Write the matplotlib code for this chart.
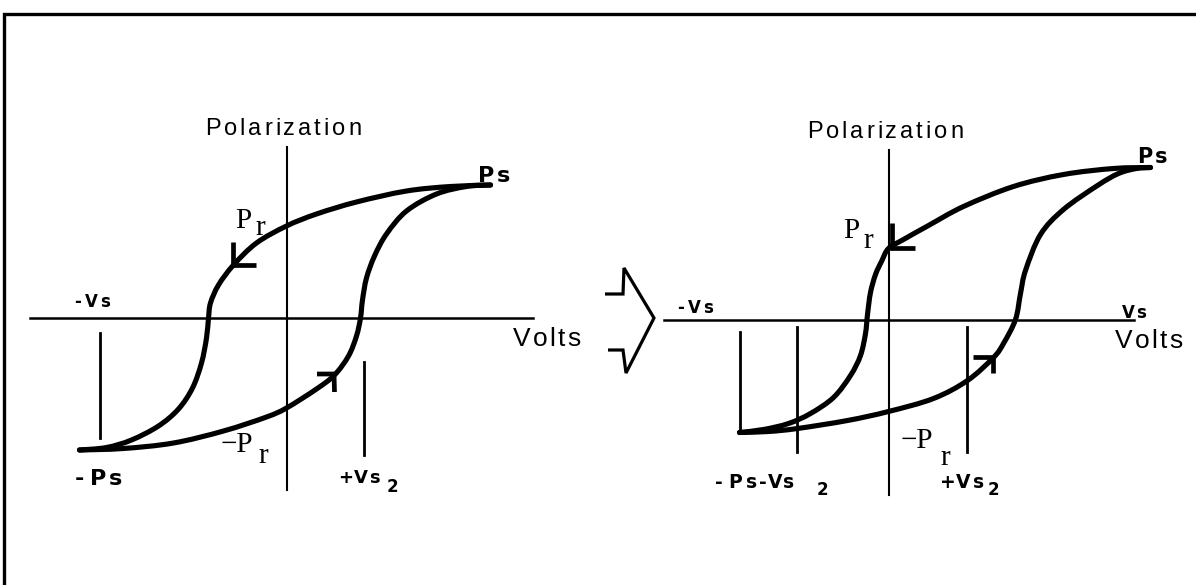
import numpy as np
import matplotlib
matplotlib.use("Agg")
import matplotlib.pyplot as plt
from matplotlib.textpath import TextToPath
from matplotlib.font_manager import FontProperties
from matplotlib import transforms
from matplotlib.path import Path
from matplotlib.patches import PathPatch

W, H, DPI = 1196, 585, 100

# ---------------- data (voltage, polarization), pixel-scaled units ----------------
# Left loop
left_desc_v = [204, 164, 120, 70, 30, 0, -30, -53, -68, -76, -78, -80, -85, -94, -108, -128, -155, -180, -207]
left_desc_p = [133, 131.5, 127, 116, 104, 92, 75, 53, 33, 15, 0, -20, -45, -70, -91, -108, -122, -129.5, -132]
left_asc_v = [-207, -163, -113, -63, -20, 0, 30, 48, 62, 70, 74, 76, 80, 88, 100, 120, 150, 180, 204]
left_asc_p = [-132, -130.5, -125, -113, -99, -90, -71, -57, -38, -18, 0, 18, 40, 62, 84, 107, 124, 131.5, 133]
left_ticks_v = [-186.5, 77.5]
left_ticks_p0 = [-15, -44]
left_ticks_p1 = [-120, -137]

# Right loop
right_desc_v = [262, 225, 175, 125, 75, 40, 15, 0, -7, -13, -18, -21, -23, -28, -38, -55, -78, -100, -125, -149]
right_desc_p = [152, 151, 145, 133, 113, 94, 80, 71, 58, 45, 27, 5, -14, -36, -56, -78, -94, -104, -110, -113]
right_asc_v = [-149, -120, -91, -41, 0, 45, 79, 105, 115, 127, 132, 137, 152, 175, 209, 230, 248, 262]
right_asc_p = [-113, -112, -109, -101, -92, -79, -61, -38, -24, 0, 26, 49, 85, 110, 134, 146, 151, 152]
right_ticks_v = [-148.5, -91.5, 78.5]
right_ticks_p0 = [-12.5, -7.5, -7.5]
right_ticks_p1 = [-112.5, -132.5, -132.5]

fig = plt.figure(figsize=(W / DPI, H / DPI), dpi=DPI)
fig.patch.set_facecolor("white")

bg = fig.add_axes([0, 0, 1, 1])
bg.set_xlim(0, W)
bg.set_ylim(H, 0)
bg.axis("off")

# page frame
bg.plot([4, 4, W], [H, 14, 14], color="black", lw=2.4, solid_joinstyle="miter")

# hollow arrow symbol between the two diagrams
bg.plot([605, 623, 624, 654, 626, 623, 608], [294, 294, 268, 318, 373, 350, 350],
        color="black", lw=2.3, solid_joinstyle="miter", solid_capstyle="butt")

t2p = TextToPath()


def tracked(ax, x, y, s, size, track, family, weight="normal", ha="left"):
    prop = FontProperties(family=family, weight=weight, size=size)
    n = len(s)
    if np.isscalar(track):
        track = [track] * max(n - 1, 1)
    widths = [0.0]
    for i in range(1, n + 1):
        w = t2p.get_text_width_height_descent(s[:i], prop, ismath=False)[0] * DPI / 72.0
        widths.append(w)
    total = widths[-1] + sum(track[: n - 1])
    x0 = 0.0 if ha == "left" else (-total / 2 if ha == "center" else -total)
    acc = 0.0
    for i, ch in enumerate(s):
        off = transforms.offset_copy(ax.transData, fig=ax.figure, x=x0 + widths[i] + acc, y=0, units="dots")
        ax.text(x, y, ch, transform=off, fontproperties=prop, va="baseline", ha="left", color="black")
        if i < n - 1:
            acc += track[i]


def loop_axes(ox, oy):
    ax = fig.add_axes([0, 0, 1, 1])
    ax.set_xlim(-ox, W - ox)
    ax.set_ylim(oy - H, oy)
    ax.axis("off")
    ax.patch.set_alpha(0)
    return ax


def smooth_curve(ax, xs, ys, lw=3.7):
    P = np.column_stack([xs, ys]).astype(float)
    n = len(P)
    verts = [P[0]]
    codes = [Path.MOVETO]
    for i in range(n - 1):
        p0 = P[i - 1] if i > 0 else P[i]
        p1, p2 = P[i], P[i + 1]
        p3 = P[i + 2] if i + 2 < n else P[i + 1]
        verts += [p1 + (p2 - p0) / 6.0, p2 - (p3 - p1) / 6.0, p2]
        codes += [Path.CURVE4] * 3
    ax.add_patch(PathPatch(Path(verts, codes), fill=False, lw=lw, edgecolor="black",
                           capstyle="round", joinstyle="round"))


def half_arrow(ax, tip, a1, a2):
    ax.plot([a1[0], tip[0], a2[0]], [a1[1], tip[1], a2[1]], color="black", lw=3.4,
            solid_capstyle="butt", solid_joinstyle="miter")


SANS = "Liberation Sans"
BOLD = "DejaVu Sans"
SERIF = "Liberation Serif"

# ---------------- left diagram ----------------
axL = loop_axes(286.5, 318)
axL.plot([-256.5, 246.5], [0, 0], color="black", lw=1.8)
axL.plot([0, 0], [171, -172], color="black", lw=1.5)
for v, p0, p1 in zip(left_ticks_v, left_ticks_p0, left_ticks_p1):
    axL.plot([v, v], [p0, p1], color="black", lw=2.0)
smooth_curve(axL, left_desc_v, left_desc_p)
smooth_curve(axL, left_asc_v, left_asc_p)
half_arrow(axL, (-53.5, 53), (-53.5, 76), (-31, 53))
half_arrow(axL, (47.5, -56), (30.5, -56), (48, -74))

tracked(axL, -3.5, 183, "Polarization", 17, 3.0, SANS, ha="center")
tracked(axL, 191.5, 136, "Ps", 16, 3, BOLD, weight="bold")
tracked(axL, -212.5, 11, "-Vs", 12, [4, 4], BOLD, weight="bold")
tracked(axL, 226.5, -28, "Volts", 19, 2.5, SANS)
tracked(axL, -211.5, -167, "-Ps", 16, [6, 2], BOLD, weight="bold")
tracked(axL, 51.5, -165, "+Vs", 13, [1, 1], BOLD, weight="bold")
tracked(axL, 100.5, -174, "2", 12, 0, BOLD, weight="bold")
axL.text(-51.5, 90, "P", fontfamily=SERIF, fontsize=21, va="baseline", ha="left")
axL.text(-31.5, 83, "r", fontfamily=SERIF, fontsize=21, va="baseline", ha="left")
axL.text(-65.5, -134, "\u2212P", fontfamily=SERIF, fontsize=21, va="baseline", ha="left")
axL.text(-28.5, -145, "r", fontfamily=SERIF, fontsize=21, va="baseline", ha="left")

# ---------------- right diagram ----------------
axR = loop_axes(888.5, 319.5)
axR.plot([-224.5, 245.5], [0, 0], color="black", lw=1.8)
axR.plot([0, 0], [169.5, -175.5], color="black", lw=1.5)
for v, p0, p1 in zip(right_ticks_v, right_ticks_p0, right_ticks_p1):
    axR.plot([v, v], [p0, p1], color="black", lw=2.0)
smooth_curve(axR, right_desc_v, right_desc_p)
smooth_curve(axR, right_asc_v, right_asc_p)
half_arrow(axR, (3.5, 71.5), (3.5, 96.5), (26.5, 71.5))
half_arrow(axR, (104.5, -37.5), (84.5, -37.5), (104.5, -53.5))

tracked(axR, -3.5, 181.5, "Polarization", 17, 3.0, SANS, ha="center")
tracked(axR, 248.5, 156.5, "Ps", 15, 3, BOLD, weight="bold")
tracked(axR, -211.5, 6.5, "-Vs", 12, [4, 4], BOLD, weight="bold")
tracked(axR, 233.5, 1.5, "Vs", 12, 1, BOLD, weight="bold")
tracked(axR, 226.5, -28.5, "Volts", 19, 2.5, SANS)
tracked(axR, -173.5, -168.5, "-Ps-Vs", 13.5, [5, 4, 3, 1, 2], BOLD, weight="bold")
tracked(axR, -71.5, -175.5, "2", 12, 0, BOLD, weight="bold")
tracked(axR, 51.5, -168.5, "+Vs", 13.5, [0, 3], BOLD, weight="bold")
tracked(axR, 99.5, -175.5, "2", 12, 0, BOLD, weight="bold")
axR.text(-45.5, 81.5, "P", fontfamily=SERIF, fontsize=21, va="baseline", ha="left")
axR.text(-25.5, 71.5, "r", fontfamily=SERIF, fontsize=21, va="baseline", ha="left")
axR.text(12.5, -128.5, "\u2212P", fontfamily=SERIF, fontsize=21, va="baseline", ha="left")
axR.text(51.5, -145.5, "r", fontfamily=SERIF, fontsize=21, va="baseline", ha="left")

fig.savefig("out.png", dpi=DPI, facecolor="white")
